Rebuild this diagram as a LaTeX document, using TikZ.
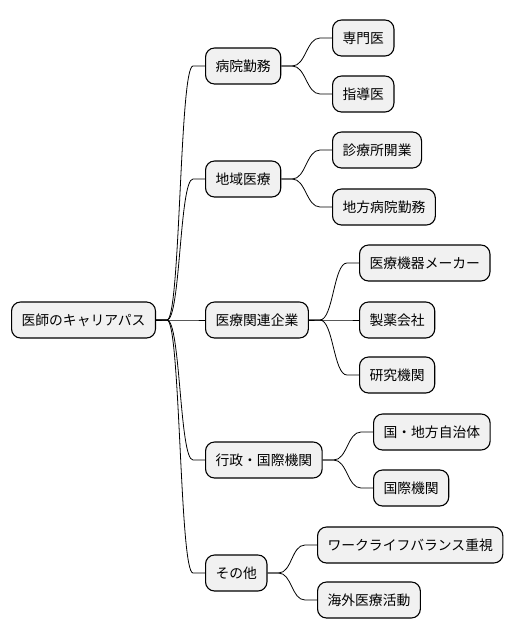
\documentclass[tikz,border=0pt]{standalone}
\usepackage{fontspec}
\setmainfont{Noto Sans CJK JP}
\usetikzlibrary{calc}
\definecolor{nodegray}{HTML}{F1F1F1}
\tikzset{
  mnode/.style={draw=black, line width=1.1pt, fill=nodegray, rounded corners=9pt,
    minimum height=36pt, inner xsep=10pt, inner ysep=0pt, anchor=west,
    font=\fontsize{13.8pt}{16pt}\selectfont},
  link/.style={draw=black, line width=0.8pt},
}
\newcommand\mmlink[2]{%
  \draw[link] (#1.east) -- ($(#1.east)+(11,0)$)
    .. controls ($(#1.east)+(24.5,0)$) and ($(#2.west)+(-25.5,0)$) ..
    ($(#2.west)+(-12,0)$) -- (#2.west);}
\begin{document}
\begin{tikzpicture}[x=1pt,y=-1pt]
\useasboundingbox (0,0) rectangle (516,640);
\node[mnode] (root) at (11,320) {医師のキャリアパス};
\node[mnode] (byoin) at (205,66) {病院勤務};
\node[mnode] (senmon) at (332,38) {専門医};
\node[mnode] (shido) at (332,94) {指導医};
\node[mnode] (chiiki) at (205,179) {地域医療};
\node[mnode] (shinryo) at (332,150) {診療所開業};
\node[mnode] (chiho) at (332,207) {地方病院勤務};
\node[mnode] (kigyo) at (205,320) {医療関連企業};
\node[mnode] (kiki) at (359,263) {医療機器メーカー};
\node[mnode] (seiyaku) at (359,320) {製薬会社};
\node[mnode] (kenkyu) at (359,375) {研究機関};
\node[mnode] (gyosei) at (205,460) {行政・国際機関};
\node[mnode] (kuni) at (373,432) {国・地方自治体};
\node[mnode] (kokusai) at (373,488) {国際機関};
\node[mnode] (sonota) at (205,573) {その他};
\node[mnode] (wlb) at (317,545) {ワークライフバランス重視};
\node[mnode] (kaigai) at (317,600) {海外医療活動};
\mmlink{root}{byoin}
\mmlink{root}{chiiki}
\mmlink{root}{kigyo}
\mmlink{root}{gyosei}
\mmlink{root}{sonota}
\mmlink{byoin}{senmon}
\mmlink{byoin}{shido}
\mmlink{chiiki}{shinryo}
\mmlink{chiiki}{chiho}
\mmlink{kigyo}{kiki}
\mmlink{kigyo}{seiyaku}
\mmlink{kigyo}{kenkyu}
\mmlink{gyosei}{kuni}
\mmlink{gyosei}{kokusai}
\mmlink{sonota}{wlb}
\mmlink{sonota}{kaigai}
\end{tikzpicture}
\end{document}
